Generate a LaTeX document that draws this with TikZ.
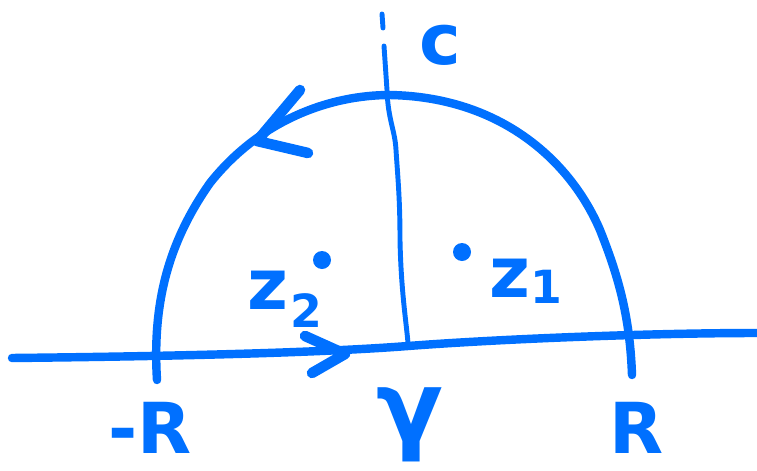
\documentclass[tikz,border=0pt]{standalone}
\usepackage{fontspec}
\setsansfont{DejaVu Sans}
\usetikzlibrary{calc}
\definecolor{pen}{RGB}{0,112,255}

\begin{document}
\begin{tikzpicture}[x=0.2mm,y=-0.2mm,every node/.style={outer sep=0pt,inner sep=0pt,text=pen}]
	
	\tikzstyle{stroke}=[draw=pen,line width=4.8pt,line cap=round,line join=round]
	\tikzstyle{thin stroke}=[draw=pen,line width=2.8pt,line cap=round,line join=round]
	\tikzstyle{barb}=[draw=pen,line width=6pt,line cap=round,line join=round]
	\tikzstyle{hand}=[font=\sffamily\bfseries\fontsize{40}{40}\selectfont]
	\tikzstyle{sub}=[font=\sffamily\bfseries\fontsize{26}{26}\selectfont]
	
	\useasboundingbox (0,0) rectangle (757,471);
	
	% real axis and imaginary axis
	\coordinate (axisL) at (12,358);
	\coordinate (axisR) at (757,333);
	\draw [stroke] (axisL) .. controls (200,356) and (330,352) .. (408,346) .. controls (500,339) and (650,333) .. (axisR);
	\coordinate (imtop) at (382,14);
	\draw [thin stroke] (imtop) -- (383,28);
	\draw [thin stroke] (384,46) -- (387,90) .. controls (388,120) and (395,130) .. (396,150) .. controls (398,180) and (400,200) .. (400,240) .. controls (401,290) and (406,320) .. (408,343);
	
	% semicircle
	\coordinate (arcL) at (157,380);
	\coordinate (arcR) at (632,375);
	\draw [stroke] (arcL) .. controls (152,300) and (170,240) .. (210,183) .. controls (260,120) and (330,95) .. (390,95) .. controls (500,97) and (570,160) .. (600,230) .. controls (620,280) and (630,320) .. (arcR);
	
	% arrow heads
	\coordinate (tipC) at (257,141);
	\draw [barb] (300,90) -- (tipC) -- (308,153);
	\coordinate (tipA) at (345,354);
	\draw [barb] (305,336) -- (tipA) -- (312,373);
	
	% poles
	\fill [pen] (322,260) circle (9);
	\fill [pen] (462,252) circle (9);
	
	% labels
	\node (zz2) at (268,290) [hand] {z};
	\node (sub2) at (306,311) [hand,sub] {2};
	\node (zz1) at (510,278) [hand] {z};
	\node (sub1) at (546,287) [hand,sub] {1};
	\node (lblC) at (440,45) [hand] {c};
	\node (lblmR) at (150,428) [hand] {-R};
	\node (lblR) at (637,428) [hand] {R};
	\node (lblgamma) at (410,425) [hand,font=\sffamily\bfseries\fontsize{56}{56}\selectfont] {γ};
	
\end{tikzpicture}
\end{document}
